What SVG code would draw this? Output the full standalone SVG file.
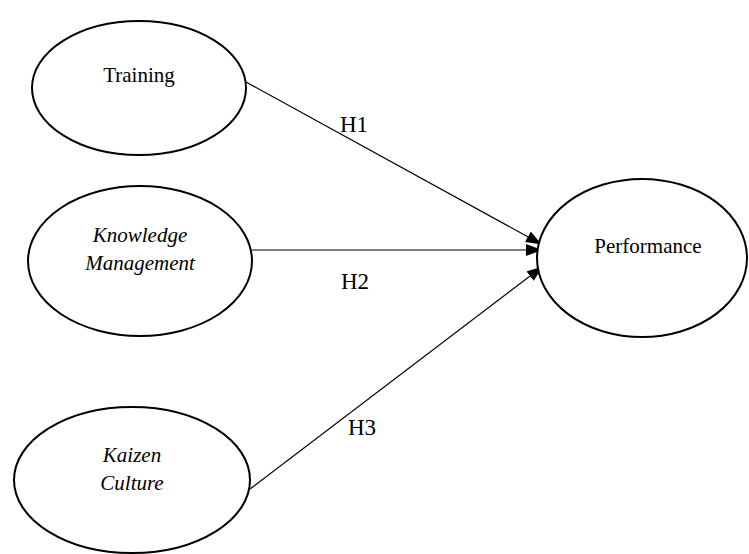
<svg xmlns="http://www.w3.org/2000/svg" width="749" height="554" viewBox="0 0 749 554">
<style>
.node{fill:#fff;stroke:#000;stroke-width:2}
.lbl{font-family:"Liberation Serif","Times New Roman",serif;font-size:21px;fill:#000;text-anchor:middle}
.it{font-style:italic}
.edge{stroke:#000;stroke-width:1.2;fill:none;marker-end:url(#ah)}
.h{font-family:"Liberation Serif","Times New Roman",serif;font-size:23px;fill:#000}
</style>
<defs>
<marker id="ah" markerUnits="userSpaceOnUse" markerWidth="16" markerHeight="12" refX="15" refY="6" orient="auto">
<path d="M0,0 L16,6 L0,12 Z" fill="#000"/>
</marker>
</defs>
<rect width="749" height="554" fill="#fff"/>
<g id="connectors">
<line class="edge" x1="246" y1="82" x2="541" y2="244"/>
<line class="edge" x1="252" y1="250" x2="541" y2="250"/>
<line class="edge" x1="250" y1="489" x2="542" y2="267"/>
<text class="h" x="340" y="132">H1</text>
<text class="h" x="341" y="289">H2</text>
<text class="h" x="348" y="435">H3</text>
</g>
<g id="training">
<ellipse class="node" cx="139" cy="88" rx="107" ry="67"/>
<text class="lbl" x="139" y="82">Training</text>
</g>
<g id="knowledge">
<ellipse class="node" cx="140" cy="261" rx="112" ry="75"/>
<text class="lbl it" x="140" y="242">Knowledge</text>
<text class="lbl it" x="140" y="270">Management</text>
</g>
<g id="kaizen">
<ellipse class="node" cx="132" cy="480" rx="118" ry="73"/>
<text class="lbl it" x="132" y="462">Kaizen</text>
<text class="lbl it" x="132" y="490">Culture</text>
</g>
<g id="performance">
<ellipse class="node" cx="642" cy="258" rx="105" ry="79"/>
<text class="lbl" x="648" y="253">Performance</text>
</g>
</svg>
